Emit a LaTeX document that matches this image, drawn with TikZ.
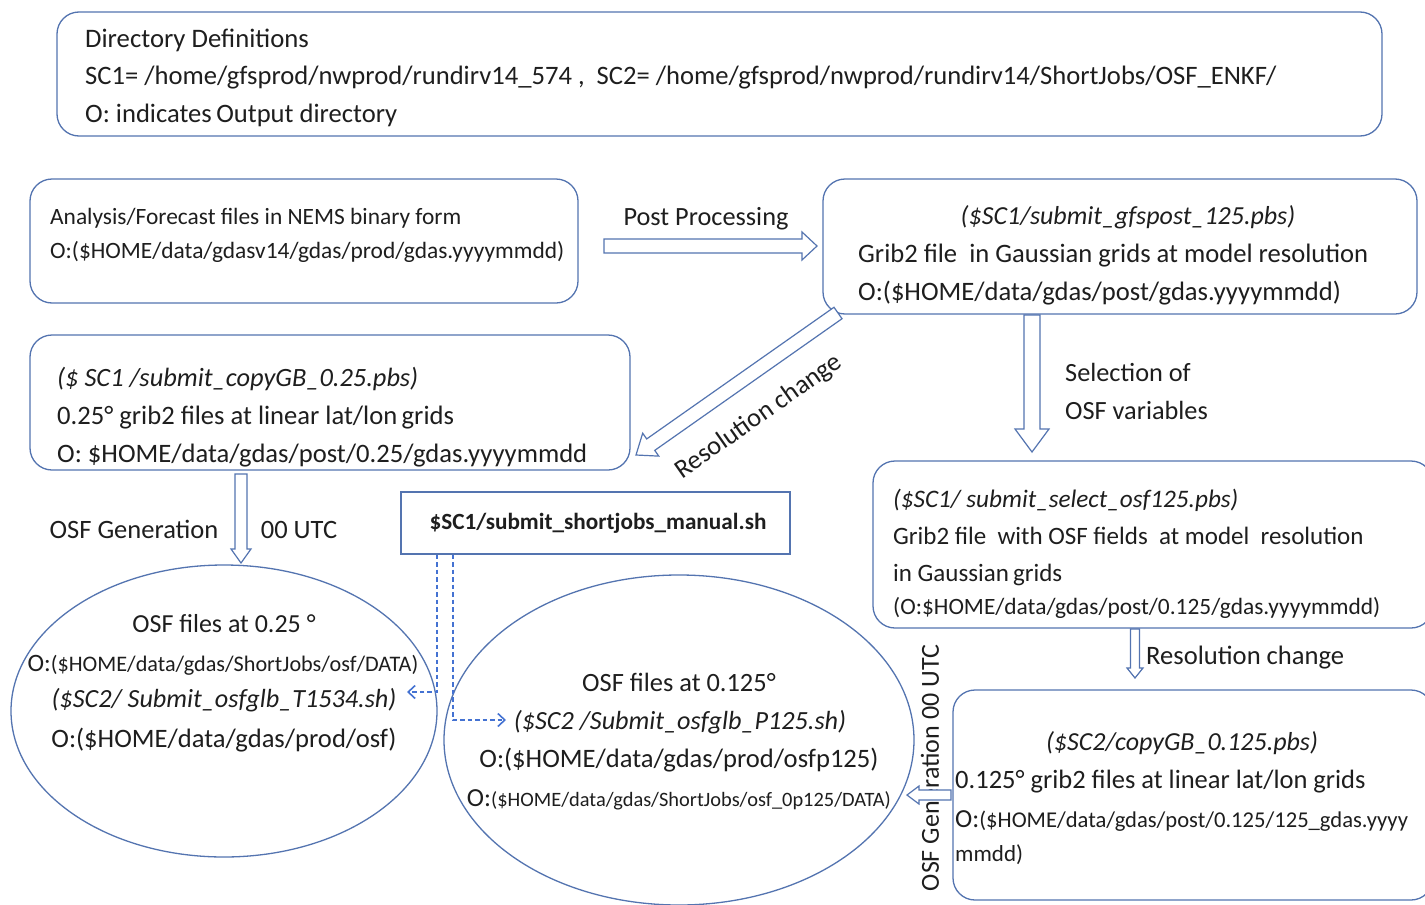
\documentclass[tikz,border=0pt]{standalone}
\usepackage{fontspec}
\setmainfont{Carlito}
\usetikzlibrary{calc,arrows.meta,shapes.geometric}
\definecolor{boxblue}{RGB}{84,116,176}
\definecolor{dashblue}{RGB}{68,114,210}
\definecolor{txt}{RGB}{30,30,30}
\newcommand{\fs}[1]{\fontsize{#1}{#1}\selectfont}
\newcommand{\hollowarrow}[5]{%
  \draw[boxblue,line width=1.2pt,line join=miter,fill=white]
    ($(#1)!#3!90:(#2)$) -- ($($(#2)!#5!(#1)$)!#3!-90:(#1)$) --
    ($($(#2)!#5!(#1)$)!#4!-90:(#1)$) -- (#2) --
    ($($(#2)!#5!(#1)$)!#4!90:(#1)$) -- ($($(#2)!#5!(#1)$)!#3!90:(#1)$) --
    ($(#1)!#3!-90:(#2)$) -- cycle;}
\begin{document}
\begin{tikzpicture}[x=1pt,y=-1pt,
  rbox/.style={draw=boxblue,line width=1.3pt,rounded corners=22pt,inner sep=0pt},
  sbox/.style={draw=boxblue,line width=1.3pt,inner sep=0pt},
  oval/.style={draw=boxblue,line width=1.3pt},
  tl/.style={text=txt,inner sep=0pt,anchor=base west},
  tc/.style={text=txt,inner sep=0pt,anchor=base},
  dashline/.style={dashblue,line width=1.6pt,dash pattern=on 4.5pt off 3pt,-{Straight Barb[length=7pt,width=13pt,line width=1.6pt]}}]
\useasboundingbox (0,0) rectangle (1425,905);
\fill[white] (0,0) rectangle (1425,905);

% ---------- boxes ----------
\node[rbox,minimum width=1325pt,minimum height=124pt] (dirbox) at (719.5,74) {};
\node[rbox,minimum width=548pt,minimum height=124pt] (anbox) at (304,241) {};
\node[rbox,minimum width=594pt,minimum height=135pt] (gpbox) at (1120,246.5) {};
\node[rbox,minimum width=600pt,minimum height=135pt] (cg25box) at (330,402.5) {};
\node[sbox,minimum width=389pt,minimum height=62pt] (sjbox) at (595.5,523) {};
\node[rbox,minimum width=560pt,minimum height=167pt] (selbox) at (1153,544.5) {};
\node[rbox,minimum width=480pt,minimum height=210pt] (cg125box) at (1193,795) {};
\node[oval,ellipse,minimum width=426pt,minimum height=292pt,inner sep=0pt] (e1) at (224,711) {};
\node[oval,ellipse,minimum width=470pt,minimum height=330pt,inner sep=0pt] (e2) at (679,740) {};

% ---------- texts ----------
\node[tl,font=\fs{26.7}] (d1) at (85,47) {Directory Definitions};
\node[tl,font=\fs{26.6}] (d2) at (85,84) {SC1= /home/gfsprod/nwprod/rundirv14\_574 ,\ \ SC2= /home/gfsprod/nwprod/rundirv14/ShortJobs/OSF\_ENKF/};
\node[tl,font=\fs{26.6}] (d3) at (85,122) {O: indicates\,Output directory};

\node[tl,font=\fs{23.4}] (a1) at (50,224) {Analysis/Forecast files in NEMS binary form};
\node[tl,font=\fs{23.4}] (a2) at (50,258) {O:(\$HOME/data/gdasv14/gdas/prod/gdas.yyyymmdd)};

\node[tc,font=\fs{26}] (g1) at (1128,224) {\itshape(\$SC1/submit\_gfspost\_125.pbs)};
\node[tl,font=\fs{26.6}] (g2) at (858,262) {Grib2 file\ \ in Gaussian grids at model resolution};
\node[tl,font=\fs{26.6}] (g3) at (858,300) {O:(\$HOME/data/gdas/post/gdas.yyyymmdd)};

\node[tl,font=\fs{26.4}] (c1) at (57,386) {\itshape(\$ SC1 /submit\_copyGB\_0.25.pbs)};
\node[tl,font=\fs{26.6}] (c2) at (57,424) {0.25\textdegree\ grib2 files at linear lat/lon\,grids};
\node[tl,font=\fs{26.6}] (c3) at (57,462) {O: \$HOME/data/gdas/post/0.25/gdas.yyyymmdd};

\node[tc,font=\bfseries\fs{23.2}] (sj) at (598,529) {\$SC1/submit\_shortjobs\_manual.sh};

\node[tl,font=\fs{25.2}] (s1) at (893,507) {\itshape(\$SC1/ submit\_select\_osf125.pbs)};
\node[tl,font=\fs{25}] (s2) at (893,544) {Grib2 file\ \ with OSF fields\ \ at model\ \ resolution};
\node[tl,font=\fs{25}] (s3) at (893,581) {in Gaussian\,grids};
\node[tl,font=\fs{23.4}] (s4) at (893,614) {(O:\$HOME/data/gdas/post/0.125/gdas.yyyymmdd)};

\node[tc,font=\fs{26}] (k1) at (1182,750) {\itshape(\$SC2/copyGB\_0.125.pbs)};
\node[tl,font=\fs{26.5}] (k2) at (955,788) {0.125\textdegree\ grib2 files at linear lat/lon grids};
\node[tl,font=\fs{22.6}] (k3) at (955,827) {\fs{26}O:\fs{22.6}(\$HOME/data/gdas/post/0.125/125\_gdas.yyyy};
\node[tl,font=\fs{23}] (k4) at (955,861) {mmdd)};

\node[tc,font=\fs{26}] (o1) at (224,632) {OSF files at 0.25 \textdegree};
\node[tc,font=\fs{22.2}] (o2) at (223,671) {\fs{25}O:\fs{22.2}(\$HOME/data/gdas/ShortJobs/osf/DATA)};
\node[tc,font=\fs{26.2}] (o3) at (224,707) {\itshape(\$SC2/ Submit\_osfglb\_T1534.sh)};
\node[tc,font=\fs{26.6}] (o4) at (224,747) {O:(\$HOME/data/gdas/prod/osf)};

\node[tc,font=\fs{26.4}] (p1) at (679,691) {OSF files at 0.125\textdegree};
\node[tc,font=\fs{26.2}] (p2) at (680,729) {\itshape(\$SC2 /Submit\_osfglb\_P125.sh)};
\node[tc,font=\fs{26.6}] (p3) at (679,767) {O:(\$HOME/data/gdas/prod/osfp125)};
\node[tc,font=\fs{20.4}] (p4) at (679,806) {\fs{26}O:\fs{20.4}(\$HOME/data/gdas/ShortJobs/osf\_0p125/DATA)};

% ---------- labels ----------
\node[tc,font=\fs{26.3}] (lpp) at (706,225) {Post Processing};
\node[text=txt,inner sep=0pt,font=\fs{26.5},rotate=35] (lrc) at (759,417) {Resolution change};
\node[tl,font=\fs{26.3}] (lsel1) at (1065,381) {Selection of};
\node[tl,font=\fs{26.3}] (lsel2) at (1065,419) {OSF variables};
\node[tc,font=\fs{26.5}] (lgen) at (134,538) {OSF Generation};
\node[tc,font=\fs{26.5}] (lutc) at (299,538) {00 UTC};
\node[tl,font=\fs{26.6}] (lrc2) at (1146,664) {Resolution change};
\node[text=txt,inner sep=0pt,font=\fs{26},rotate=90] (lgen2) at (930,768) {OSF Generation 00 UTC};

% ---------- hollow arrows ----------
\coordinate (ppA) at (604,246);  \coordinate (ppB) at (817,246);
\hollowarrow{ppA}{ppB}{7pt}{14pt}{15pt}
\coordinate (rcA) at (838,313);  \coordinate (rcB) at (636,455);
\hollowarrow{rcA}{rcB}{7pt}{14pt}{18pt}
\coordinate (selA) at (1032,315); \coordinate (selB) at (1032,452);
\hollowarrow{selA}{selB}{8pt}{17pt}{23pt}
\coordinate (genA) at (241,474); \coordinate (genB) at (241,563);
\hollowarrow{genA}{genB}{6pt}{10pt}{14pt}
\coordinate (rc2A) at (1135,629); \coordinate (rc2B) at (1135,678);
\hollowarrow{rc2A}{rc2B}{4.5pt}{8pt}{10pt}
\coordinate (g2A) at (951,795); \coordinate (g2B) at (907,795);
\hollowarrow{g2A}{g2B}{5pt}{9pt}{12pt}

% ---------- dashed connectors ----------
\coordinate (dj1) at (sjbox.south -| 437,0);
\coordinate (dj2) at (sjbox.south -| 453,0);
\coordinate (dt1) at (407,692);
\coordinate (dt2) at (506,720);
\draw[dashline] (dj1) |- (dt1);
\draw[dashline] (dj2) |- (dt2);
\end{tikzpicture}
\end{document}
